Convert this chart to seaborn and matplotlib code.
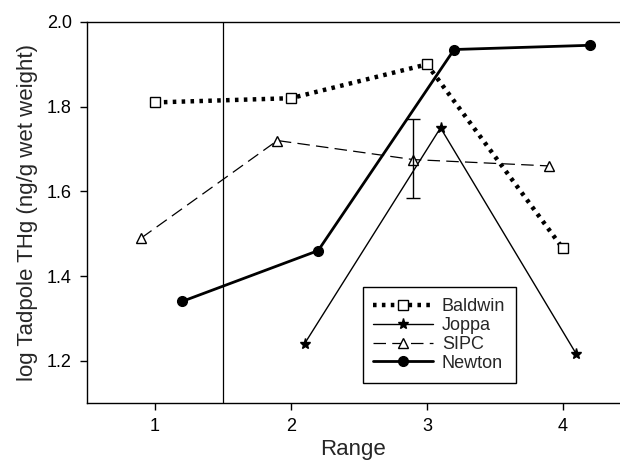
import numpy as np
import pandas as pd
import seaborn as sns
import matplotlib.pyplot as plt

sns.set_style("ticks")
plt.rcParams['font.family'] = ['Liberation Sans', 'DejaVu Sans']

# Data
sites = ["Baldwin", "Joppa", "SIPC", "Newton"]
baldwin_x = [1.0, 2.0, 3.0, 4.0]
baldwin_y = [1.81, 1.82, 1.90, 1.465]
joppa_x = [2.1, 3.1, 4.1]
joppa_y = [1.24, 1.75, 1.215]
sipc_x = [0.9, 1.9, 2.9, 3.9]
sipc_y = [1.49, 1.72, 1.675, 1.66]
newton_x = [1.2, 2.2, 3.2, 4.2]
newton_y = [1.34, 1.46, 1.935, 1.945]
# single error bar shown on SIPC at range 3
err_x = 2.9
err_lo = 1.585
err_hi = 1.77

data = pd.concat([
    pd.DataFrame({"Range": baldwin_x, "THg": baldwin_y, "site": "Baldwin"}),
    pd.DataFrame({"Range": joppa_x, "THg": joppa_y, "site": "Joppa"}),
    pd.DataFrame({"Range": sipc_x, "THg": sipc_y, "site": "SIPC"}),
    pd.DataFrame({"Range": newton_x, "THg": newton_y, "site": "Newton"}),
])

styles = {
    "Baldwin": dict(ls=(0, (0.8, 1.2)), lw=3.2, marker="s", mfc="white", ms=6.5),
    "Joppa": dict(ls="-", lw=1.0, marker="*", mfc="black", ms=8),
    "SIPC": dict(ls=(0, (10, 5)), lw=0.9, marker="^", mfc="white", ms=7.5),
    "Newton": dict(ls="-", lw=2.0, marker="o", mfc="black", ms=7),
}

fig = plt.figure(figsize=(6.2, 4.65), dpi=100)
ax = fig.add_axes([87 / 620, 1 - 403 / 465, 1 - 87 / 620, (403 - 22) / 465])

for s in sites:
    st = styles[s]
    sns.lineplot(data=data[data.site == s], x="Range", y="THg", ax=ax,
                 color="black", linestyle=st["ls"], linewidth=st["lw"],
                 marker=st["marker"], markerfacecolor=st["mfc"],
                 markeredgecolor="black", markersize=st["ms"],
                 markeredgewidth=1.0, label=s)

ax.errorbar([err_x], [(err_lo + err_hi) / 2], yerr=[[(err_hi - err_lo) / 2], [(err_hi - err_lo) / 2]],
            fmt="none", ecolor="black", elinewidth=1.0, capsize=5)

ax.axvline(1.5, color="black", lw=0.9)

ax.set_xlim(0.5, 4.42)
ax.set_ylim(1.1, 2.0)
ax.set_xticks([1, 2, 3, 4])
ax.set_yticks([1.2, 1.4, 1.6, 1.8, 2.0])
ax.set_yticklabels(["1.2", "1.4", "1.6", "1.8", "2.0"])
ax.tick_params(labelsize=13, length=5, width=1, colors="black", pad=6)
ax.set_xlabel("Range", fontsize=16, labelpad=3)
ax.set_ylabel("log Tadpole THg (ng/g wet weight)", fontsize=16, labelpad=6)
for side in ["left", "bottom", "top"]:
    ax.spines[side].set_visible(True)
    ax.spines[side].set_color("black")
    ax.spines[side].set_linewidth(1.0)
ax.spines["right"].set_visible(False)

leg = ax.legend(loc="lower left", bbox_to_anchor=(0.50, 0.03), fontsize=13,
                frameon=True, fancybox=False, edgecolor="black", framealpha=1,
                handlelength=3.3, handletextpad=0.5, labelspacing=0.1,
                borderpad=0.6)
leg.get_frame().set_linewidth(1.0)

fig.savefig("out.png", dpi=100)
